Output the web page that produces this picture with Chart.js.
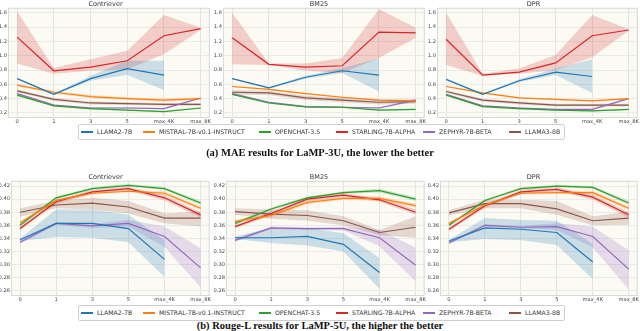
<!DOCTYPE html>
<html>
<head>
<meta charset="utf-8">
<script src="https://cdn.jsdelivr.net/npm/chart.js@4.4.0/dist/chart.umd.min.js"></script>
<style>
  html, body { margin: 0; padding: 0; background: #fff; width: 640px; height: 331px; overflow: hidden; }
  body { position: relative; font-family: "DejaVu Sans", sans-serif; }
  .panel { position: absolute; }
  .legend { position: absolute; left: 78px; width: 487px; height: 16px; border: 1px solid #cfcfcf; border-radius: 2px; box-sizing: border-box; background: #fff; }
  .item { position: absolute; top: 0; height: 14px; line-height: 14px; font-size: 6.2px; color: #333; white-space: nowrap; }
  .item i { position: absolute; left: 0; top: 6px; width: 12px; height: 2px; }
  .item span { margin-left: 16px; }
  .caption { position: absolute; left: 0; width: 640px; text-align: center; font-family: "Liberation Serif", "Times New Roman", serif; font-weight: bold; font-size: 10.5px; line-height: 13px; color: #111; }
</style>
</head>
<body>
<div class="panel" id="p1" style="left:0;top:0;width:212px;height:126px"><canvas id="c1"></canvas></div>
<div class="panel" id="p2" style="left:212px;top:0;width:215px;height:126px"><canvas id="c2"></canvas></div>
<div class="panel" id="p3" style="left:427px;top:0;width:213px;height:126px"><canvas id="c3"></canvas></div>
<div class="legend" id="legTop" style="top:124px"></div>
<div class="caption" style="top:146px">(a) MAE results for LaMP-3U, the lower the better</div>

<div class="panel" id="p4" style="left:0;top:173px;width:212px;height:131px"><canvas id="c4"></canvas></div>
<div class="panel" id="p5" style="left:212px;top:173px;width:215px;height:131px"><canvas id="c5"></canvas></div>
<div class="panel" id="p6" style="left:427px;top:173px;width:213px;height:131px"><canvas id="c6"></canvas></div>
<div class="legend" id="legBot" style="top:305px"></div>
<div class="caption" style="top:319px">(b) Rouge-L results for LaMP-5U, the higher the better</div>

<script>
const xLabels = ["0", "1", "3", "5", "max_4K", "max_8K"];
const models = ["LLAMA2-7B", "MISTRAL-7B-v0.1-INSTRUCT", "OPENCHAT-3.5", "STARLING-7B-ALPHA", "ZEPHYR-7B-BETA", "LLAMA3-8B"];
const colors = ["#1f77b4", "#ff7f0e", "#2ca02c", "#d62728", "#9467bd", "#8c564b"];
const bandColors = ["rgba(31,119,180,0.22)", "rgba(255,127,14,0.22)", "rgba(44,160,44,0.22)", "rgba(214,39,40,0.22)", "rgba(148,103,189,0.22)", "rgba(140,86,75,0.22)"];

// MAE, LaMP-3U (rows follow models order)
const maeContrieverMean = [
  [0.68, 0.46, 0.68, 0.82, 0.73, null],
  [0.59, 0.49, 0.43, 0.40, 0.38, 0.40],
  [0.45, 0.30, 0.26, 0.24, 0.22, 0.27],
  [1.26, 0.79, 0.84, 0.93, 1.28, 1.38],
  [0.47, 0.31, 0.27, 0.27, 0.26, 0.41],
  [0.51, 0.39, 0.34, 0.33, 0.32, 0.32]
];
const maeContrieverLow = [
  [0.67, 0.45, 0.65, 0.73, 0.52, null],
  [0.57, 0.47, 0.41, 0.38, 0.36, 0.38],
  [0.44, 0.29, 0.25, 0.23, 0.21, 0.26],
  [0.89, 0.75, 0.79, 0.81, 1.02, 1.36],
  [0.46, 0.30, 0.26, 0.26, 0.25, 0.40],
  [0.49, 0.37, 0.32, 0.31, 0.30, 0.30]
];
const maeContrieverHigh = [
  [0.69, 0.47, 0.72, 0.93, 0.93, null],
  [0.61, 0.51, 0.45, 0.42, 0.40, 0.42],
  [0.46, 0.31, 0.27, 0.25, 0.23, 0.28],
  [1.62, 0.83, 0.95, 1.07, 1.57, 1.39],
  [0.48, 0.32, 0.28, 0.28, 0.27, 0.42],
  [0.53, 0.41, 0.36, 0.35, 0.34, 0.34]
];

const maeBm25Mean = [
  [0.68, 0.55, 0.70, 0.79, 0.73, null],
  [0.57, 0.53, 0.47, 0.42, 0.38, 0.37],
  [0.46, 0.34, 0.285, 0.28, 0.24, 0.25],
  [1.25, 0.88, 0.84, 0.86, 1.33, 1.32],
  [0.47, 0.35, 0.29, 0.28, 0.27, 0.38],
  [0.49, 0.48, 0.41, 0.38, 0.35, 0.36]
];
const maeBm25Low = [
  [0.67, 0.54, 0.68, 0.76, 0.50, null],
  [0.56, 0.52, 0.46, 0.41, 0.37, 0.36],
  [0.45, 0.33, 0.275, 0.27, 0.23, 0.24],
  [0.88, 0.87, 0.79, 0.76, 0.97, 1.25],
  [0.46, 0.34, 0.28, 0.27, 0.26, 0.36],
  [0.46, 0.45, 0.38, 0.35, 0.32, 0.33]
];
const maeBm25High = [
  [0.69, 0.56, 0.72, 0.83, 0.96, null],
  [0.58, 0.54, 0.48, 0.43, 0.39, 0.39],
  [0.47, 0.35, 0.295, 0.29, 0.25, 0.26],
  [1.60, 0.89, 0.89, 0.97, 1.65, 1.39],
  [0.48, 0.36, 0.30, 0.29, 0.28, 0.40],
  [0.52, 0.51, 0.44, 0.41, 0.38, 0.39]
];

const maeDprMean = [
  [0.67, 0.46, 0.65, 0.77, 0.71, null],
  [0.57, 0.48, 0.41, 0.39, 0.37, 0.40],
  [0.45, 0.29, 0.26, 0.24, 0.23, 0.25],
  [1.23, 0.73, 0.77, 0.90, 1.28, 1.36],
  [0.46, 0.30, 0.27, 0.25, 0.25, 0.40],
  [0.50, 0.38, 0.34, 0.31, 0.31, 0.31]
];
const maeDprLow = [
  [0.66, 0.45, 0.63, 0.73, 0.48, null],
  [0.56, 0.47, 0.40, 0.38, 0.36, 0.39],
  [0.44, 0.28, 0.25, 0.23, 0.22, 0.24],
  [0.87, 0.72, 0.75, 0.80, 0.98, 1.35],
  [0.45, 0.29, 0.26, 0.24, 0.24, 0.39],
  [0.48, 0.36, 0.32, 0.29, 0.29, 0.29]
];
const maeDprHigh = [
  [0.68, 0.47, 0.67, 0.82, 0.95, null],
  [0.58, 0.49, 0.42, 0.40, 0.38, 0.41],
  [0.46, 0.30, 0.27, 0.25, 0.24, 0.26],
  [1.60, 0.75, 0.82, 1.01, 1.57, 1.37],
  [0.47, 0.31, 0.28, 0.26, 0.26, 0.41],
  [0.52, 0.40, 0.36, 0.33, 0.33, 0.33]
];

// Rouge-L, LaMP-5U
const rougeContrieverMean = [
  [0.338, 0.363, 0.363, 0.355, 0.308, null],
  [0.364, 0.398, 0.409, 0.412, 0.409, 0.386],
  [0.360, 0.402, 0.416, 0.421, 0.416, 0.394],
  [0.355, 0.396, 0.411, 0.416, 0.402, 0.376],
  [0.334, 0.363, 0.359, 0.363, 0.343, 0.295],
  [0.380, 0.391, 0.394, 0.388, 0.371, 0.371]
];
const rougeContrieverLow = [
  [0.336, 0.342, 0.341, 0.334, 0.281, null],
  [0.362, 0.396, 0.407, 0.410, 0.406, 0.383],
  [0.358, 0.400, 0.414, 0.419, 0.414, 0.391],
  [0.352, 0.393, 0.408, 0.413, 0.398, 0.372],
  [0.332, 0.361, 0.356, 0.358, 0.327, 0.265],
  [0.373, 0.386, 0.384, 0.378, 0.363, 0.358]
];
const rougeContrieverHigh = [
  [0.340, 0.384, 0.384, 0.376, 0.337, null],
  [0.366, 0.400, 0.411, 0.414, 0.412, 0.389],
  [0.362, 0.404, 0.418, 0.423, 0.418, 0.397],
  [0.358, 0.399, 0.414, 0.419, 0.406, 0.380],
  [0.336, 0.365, 0.362, 0.368, 0.358, 0.325],
  [0.386, 0.397, 0.402, 0.397, 0.378, 0.381]
];

const rougeBm25Mean = [
  [0.341, 0.341, 0.343, 0.331, 0.288, null],
  [0.366, 0.375, 0.395, 0.401, 0.401, 0.390],
  [0.363, 0.385, 0.402, 0.410, 0.413, 0.400],
  [0.358, 0.378, 0.400, 0.406, 0.399, 0.380],
  [0.337, 0.356, 0.355, 0.355, 0.341, 0.299],
  [0.381, 0.377, 0.375, 0.367, 0.349, 0.357]
];
const rougeBm25Low = [
  [0.339, 0.333, 0.329, 0.320, 0.263, null],
  [0.364, 0.372, 0.392, 0.399, 0.398, 0.387],
  [0.361, 0.383, 0.400, 0.408, 0.410, 0.397],
  [0.355, 0.375, 0.397, 0.403, 0.396, 0.376],
  [0.335, 0.354, 0.353, 0.352, 0.328, 0.274],
  [0.376, 0.370, 0.367, 0.360, 0.345, 0.341]
];
const rougeBm25High = [
  [0.343, 0.356, 0.356, 0.348, 0.310, null],
  [0.368, 0.378, 0.398, 0.403, 0.404, 0.393],
  [0.365, 0.387, 0.404, 0.412, 0.416, 0.403],
  [0.361, 0.381, 0.403, 0.409, 0.402, 0.384],
  [0.339, 0.358, 0.357, 0.358, 0.353, 0.326],
  [0.386, 0.384, 0.383, 0.374, 0.353, 0.374]
];

const rougeDprMean = [
  [0.336, 0.356, 0.354, 0.349, 0.304, null],
  [0.363, 0.391, 0.409, 0.410, 0.410, 0.386],
  [0.360, 0.398, 0.416, 0.420, 0.418, 0.394],
  [0.354, 0.390, 0.411, 0.415, 0.403, 0.376],
  [0.333, 0.360, 0.357, 0.358, 0.343, 0.293],
  [0.379, 0.393, 0.393, 0.385, 0.367, 0.371]
];
const rougeDprLow = [
  [0.334, 0.339, 0.337, 0.330, 0.278, null],
  [0.361, 0.389, 0.407, 0.408, 0.407, 0.383],
  [0.358, 0.396, 0.414, 0.418, 0.416, 0.391],
  [0.351, 0.387, 0.408, 0.412, 0.399, 0.372],
  [0.331, 0.358, 0.355, 0.353, 0.326, 0.262],
  [0.375, 0.386, 0.386, 0.376, 0.360, 0.361]
];
const rougeDprHigh = [
  [0.338, 0.371, 0.368, 0.367, 0.332, null],
  [0.365, 0.393, 0.411, 0.412, 0.413, 0.389],
  [0.362, 0.400, 0.418, 0.422, 0.420, 0.397],
  [0.357, 0.393, 0.414, 0.418, 0.407, 0.380],
  [0.335, 0.362, 0.359, 0.363, 0.358, 0.322],
  [0.383, 0.399, 0.399, 0.397, 0.374, 0.381]
];

const maeTicks = { min: 0.13, max: 1.67, step: 0.2, digits: 1 };
const rougeTicks = { min: 0.252, max: 0.428, step: 0.02, digits: 2 };

const plotBg = {
  id: "plotBg",
  beforeDraw(chart) {
    const { ctx, chartArea: a } = chart;
    ctx.save();
    ctx.fillStyle = "#fbfbf4";
    ctx.fillRect(a.left, a.top, a.width, a.height);
    ctx.restore();
  },
  afterDatasetsDraw(chart) {
    const { ctx, chartArea: a } = chart;
    ctx.save();
    ctx.strokeStyle = "#d9d9d9";
    ctx.lineWidth = 1;
    ctx.strokeRect(a.left + 0.5, a.top + 0.5, a.width - 1, a.height - 1);
    ctx.restore();
  },
};

const toPts = (arr) => arr.map((v, i) => ({ x: i, y: v }));
const tickFont = { family: "DejaVu Sans", size: 5.2 };

function makePanel(id, title, mean, low, high, yt, yWidth, rightPad) {
  const datasets = [];
  models.forEach((m, i) => {
    datasets.push({
      label: m,
      data: toPts(mean[i]),
      borderColor: colors[i],
      borderWidth: 1.2,
      pointRadius: 0,
      fill: false,
      tension: 0,
      order: 0,
    });
  });
  models.forEach((m, i) => {
    datasets.push({
      label: m + " high",
      data: toPts(high[i]),
      borderWidth: 0,
      borderColor: "rgba(0,0,0,0)",
      backgroundColor: bandColors[i],
      pointRadius: 0,
      fill: "+1",
      order: 1,
    });
    datasets.push({
      label: m + " low",
      data: toPts(low[i]),
      borderWidth: 0,
      borderColor: "rgba(0,0,0,0)",
      pointRadius: 0,
      fill: false,
      order: 1,
    });
  });

  new Chart(document.getElementById(id), {
    type: "line",
    data: { datasets },
    options: {
      responsive: true,
      maintainAspectRatio: false,
      animation: false,
      layout: { padding: { left: 0, right: rightPad, top: 0, bottom: 0 } },
      plugins: {
        legend: { display: false },
        tooltip: { enabled: false },
        title: {
          display: true,
          text: title,
          color: "#333",
          font: { family: "DejaVu Sans", size: 6.5, weight: "normal", lineHeight: 1.2 },
          padding: 0,
        },
      },
      scales: {
        x: {
          type: "linear",
          min: -0.25,
          max: 5.25,
          border: { display: false },
          grid: { color: "#e4e4e4", lineWidth: 1, drawTicks: false },
          ticks: {
            stepSize: 1,
            includeBounds: false,
            padding: 1,
            maxRotation: 0,
            autoSkip: false,
            color: "#444",
            font: tickFont,
            callback: (v) => xLabels[v],
          },
          afterFit: (s) => { s.height = 8; },
        },
        y: {
          min: yt.min,
          max: yt.max,
          border: { display: false },
          grid: { color: "#eaeaea", lineWidth: 1, drawTicks: false },
          ticks: {
            stepSize: yt.step,
            includeBounds: false,
            padding: 1,
            color: "#444",
            font: tickFont,
            callback: (v) => Number(v).toFixed(yt.digits),
          },
          afterFit: (s) => { s.width = yWidth; },
        },
      },
    },
    plugins: [plotBg],
  });
}

makePanel("c1", "Contriever", maeContrieverMean, maeContrieverLow, maeContrieverHigh, maeTicks, 8, 1);
makePanel("c2", "BM25", maeBm25Mean, maeBm25Low, maeBm25High, maeTicks, 11, 1);
makePanel("c3", "DPR", maeDprMean, maeDprLow, maeDprHigh, maeTicks, 10, 0);
makePanel("c4", "Contriever", rougeContrieverMean, rougeContrieverLow, rougeContrieverHigh, rougeTicks, 11, 1);
makePanel("c5", "BM25", rougeBm25Mean, rougeBm25Low, rougeBm25High, rougeTicks, 14, 1);
makePanel("c6", "DPR", rougeDprMean, rougeDprLow, rougeDprHigh, rougeTicks, 13, 0);

// shared legend under each row
const legendOffsets = [2, 64, 180, 257, 344, 430];
function buildLegend(id) {
  const box = document.getElementById(id);
  models.forEach((m, i) => {
    const item = document.createElement("div");
    item.className = "item";
    item.style.left = legendOffsets[i] + "px";
    const sw = document.createElement("i");
    sw.style.background = colors[i];
    const txt = document.createElement("span");
    txt.textContent = m;
    item.appendChild(sw);
    item.appendChild(txt);
    box.appendChild(item);
  });
}
buildLegend("legTop");
buildLegend("legBot");
</script>
</body>
</html>
